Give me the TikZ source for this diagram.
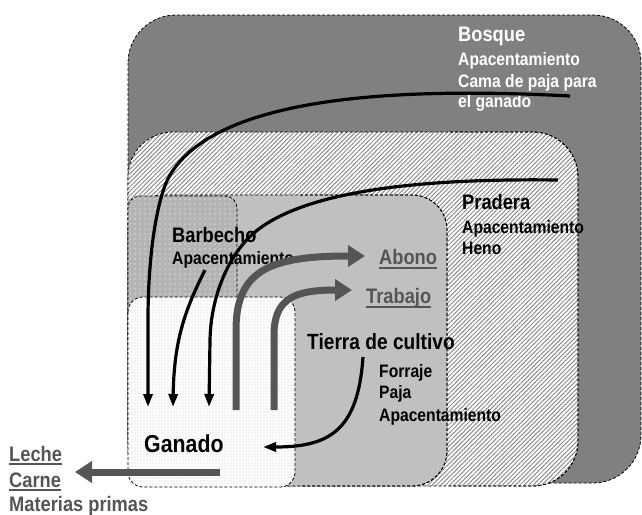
\documentclass[tikz,border=0pt]{standalone}
\usepackage{fontspec}
\setmainfont{Liberation Sans}[FakeStretch=0.87]
\usetikzlibrary{patterns.meta, arrows.meta}
\definecolor{bosquec}{HTML}{808080}
\definecolor{tierrac}{HTML}{C0C0C0}
\definecolor{barbc}{HTML}{B4B4B4}
\definecolor{darkg}{HTML}{555555}
\begin{document}
\begin{tikzpicture}[x=1pt,y=-1pt,
  region/.style={draw=black, line width=0.8pt, dash pattern=on 3pt off 2pt},
  headtxt/.style={anchor=base west, inner sep=0pt, font=\bfseries\fontsize{21}{21}\selectfont},
  subtxt/.style={anchor=base west, inner sep=0pt, font=\bfseries\fontsize{18}{18}\selectfont},
  outtxt/.style={anchor=base west, inner sep=0pt, text=darkg, font=\bfseries\fontsize{21}{21}\selectfont},
  uline/.style={draw=darkg, line width=1.6pt},
  blk/.style={draw=black, line width=3.2pt, -{Triangle[length=13pt,width=9pt]}},
  gry/.style={draw=darkg, line width=7pt, -{Triangle[length=17pt,width=21pt]}}
]
\useasboundingbox (0,0) rectangle (642,514);

% regions
\draw[region, fill=bosquec, rounded corners=48] (128,15) rectangle (641,483);
\draw[region, rounded corners=45, preaction={fill=white},
      pattern={Lines[angle=45,distance=3.1pt,line width=1pt]}, pattern color=black!45]
      (128,132) rectangle (578,486);
\draw[region, fill=tierrac, rounded corners=35] (128,195) rectangle (447,486);
\draw[region, rounded corners=12, preaction={fill=barbc},
      pattern={Dots[distance=5pt,radius=0.7pt]}, pattern color=white]
      (128,340) -- (128,196) -- (237,196) -- (237,340);
\draw[region, rounded corners=15, preaction={fill=white},
      pattern={Dots[distance=3pt,radius=0.55pt]}, pattern color=black!22]
      (128,297) rectangle (295,487);

% texts
\node[headtxt, text=white] (bosque) at (458,41) {Bosque};
\node[subtxt, text=white] (bq1) at (458,65) {Apacentamiento};
\node[subtxt, text=white] (bq2) at (458,87) {Cama de paja para};
\node[subtxt, text=white] (bq3) at (458,107) {el ganado};

\node[headtxt] (pradera) at (462,209) {Pradera};
\node[subtxt] (pr1) at (462,233) {Apacentamiento};
\node[subtxt] (pr2) at (462,254) {Heno};

\node[headtxt] (barbecho) at (172,242) {Barbecho};
\node[subtxt] (ba1) at (172,264) {Apacentamiento};

\node[outtxt] (abono) at (379,264) {Abono};
\node[outtxt] (trabajo) at (366,303) {Trabajo};
\draw[uline] ([yshift=-4pt]abono.base west) -- ([yshift=-4pt]abono.base east);
\draw[uline] ([yshift=-4pt]trabajo.base west) -- ([yshift=-4pt]trabajo.base east);

\node[anchor=base west, inner sep=0pt, font=\bfseries\fontsize{22}{22}\selectfont] (tierra) at (307,349) {Tierra de cultivo};
\node[subtxt] (ti1) at (379,377) {Forraje};
\node[subtxt] (ti2) at (379,398) {Paja};
\node[subtxt] (ti3) at (379,421) {Apacentamiento};

\node[anchor=base west, inner sep=0pt, font=\bfseries\fontsize{24.5}{24.5}\selectfont] (ganado) at (144,452) {Ganado};

\node[outtxt] (leche) at (9,461) {Leche};
\node[outtxt] (carne) at (9,487) {Carne};
\node[outtxt] (materias) at (9,511) {Materias primas};
\draw[uline] ([yshift=-3pt]leche.base west) -- ([yshift=-3pt]leche.base east);
\draw[uline] ([yshift=-3pt]carne.base west) -- ([yshift=-3pt]carne.base east);

% borders drawn over the texts that cross them
\begin{scope}
\clip (450,0) rectangle (642,514);
\draw[region, rounded corners=45] (128,132) rectangle (578,486);
\end{scope}
\begin{scope}
\clip (300,0) rectangle (642,514);
\draw[region, rounded corners=35] (128,195) rectangle (447,486);
\end{scope}

% connector end points
\coordinate (s1) at (570,96);
\coordinate (e1) at (148,407);
\coordinate (s2) at (558,180);
\coordinate (e2) at (209,407);
\coordinate (s3) at (205,270);
\coordinate (e3) at (173,407);
\coordinate (s4) at (363,357);
\coordinate (e4) at (263,447);
\coordinate (g1s) at (236,410);
\coordinate (g1e) at (365,256);
\coordinate (g2s) at (274,410);
\coordinate (g2e) at (352,290);
\coordinate (g3s) at (220,472);
\coordinate (g3e) at (75,472);

% black arrows
\draw[blk] (s1) .. controls (380,86) and (215,100) .. (170,175)
  .. controls (158,195) and (148,250) .. (148,320) -- (e1);
\draw[blk] (s2) .. controls (400,178) and (300,195) .. (255,232)
  .. controls (233,250) and (211,290) .. (210,340) -- (e2);
\draw[blk] (s3) .. controls (185,310) and (174,340) .. (e3);
\draw[blk] (s4) .. controls (358,430) and (330,447) .. (e4);

% gray arrows
\draw[gry] (g1s) -- (236,330) .. controls (236,270) and (270,256) .. (g1e);
\draw[gry] (g2s) -- (274,335) .. controls (274,298) and (295,290) .. (g2e);
\draw[gry] (g3s) -- (g3e);
\end{tikzpicture}
\end{document}
